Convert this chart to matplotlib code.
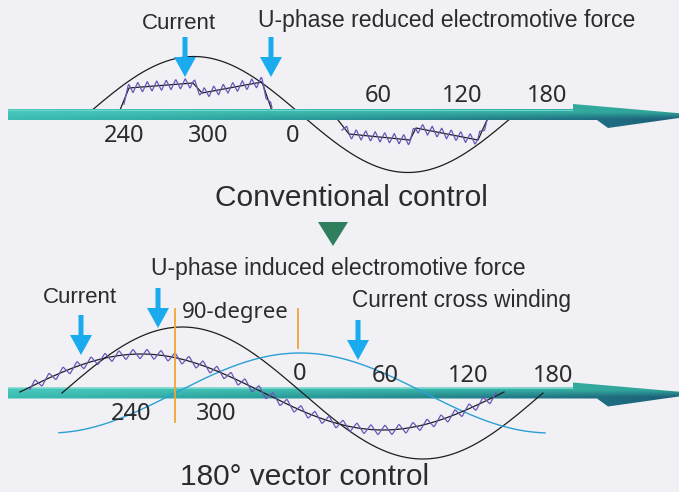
import numpy as np
import matplotlib
matplotlib.use("Agg")
import matplotlib.pyplot as plt
from matplotlib.patches import Polygon, FancyArrow
from matplotlib.colors import to_rgb

# ---- data (pixel units of the 679x492 picture) ----
# angle labels: (text, x, baseline y)
top_labels = [("240", 124, 142), ("300", 208, 142), ("0", 293, 142),
              ("60", 378, 102), ("120", 462, 102), ("180", 547, 102)]
bot_labels = [("240", 131, 420), ("300", 216, 420), ("0", 300, 380),
              ("60", 385, 382), ("120", 468, 382), ("180", 553, 382)]

# conventional control: induced EMF sine (start x, half period, amplitude)
top_emf = (87, 214, 58)
top_emf_end = 515
# conventional control: 120-degree block current (x, height above axis)
top_cur_pos_x = [116, 120, 129, 193, 202, 262, 271, 274]
top_cur_pos_h = [0, 4.5, 26.5, 31.5, 21.5, 32.5, 6.5, 0]
top_cur_neg_x = [334, 338, 349, 410, 416, 478, 487, 491]
top_cur_neg_h = [0, -5.5, -19.5, -25.5, -13.5, -25.5, -5.5, 0]

# 180 degree vector control: (start x, half period, amplitude, end x)
bot_emf = (62, 240.5, 66, 543)
bot_cur = (20, 242, 38, 504)
bot_cross = (175, 250, 40, 59, 545)   # zero x, half period, amp, from, to

top_axis_y = 114.5
bot_axis_y = 393

# ---- styles ----
bg = "#f1f1f5"
txt = "#2b2b2b"
purple = "#6a56b8"
arrow_blue = "#1aaaee"
cross_blue = "#2a9fd6"
orange = "#f2a533"
green = "#2f7f5e"
word_font = ["Liberation Sans", "DejaVu Sans"]
num_font = ["Noto Sans", "DejaVu Sans"]

fig = plt.figure(figsize=(6.79, 4.92), dpi=100)
fig.patch.set_facecolor(bg)
ax = fig.add_axes([0, 0, 1, 1])
ax.set_facecolor(bg)


def axis_arrow(yc):
    # shaded teal bar with skewed arrow head, clipped image gradient
    dy = yc - 114.5
    pts = [(8, 109), (573, 109), (573, 104), (700, 115), (608, 128),
           (597, 120), (8, 120)]
    pts = [(x, y + dy) for x, y in pts]
    poly = Polygon(pts, closed=True, facecolor="none", edgecolor="none",
                   transform=ax.transData)
    ax.add_patch(poly)
    w, h = 200, 52
    t = np.linspace(0, 1, w)[None, :, None]
    yy = np.linspace(102, 130, h)[:, None, None]
    top_l, top_r = np.array(to_rgb("#48c8bc")), np.array(to_rgb("#2fa398"))
    bot_l, bot_r = np.array(to_rgb("#22aaa0")), np.array(to_rgb("#1c5d78"))
    topc = top_l * (1 - t) + top_r * t
    botc = bot_l * (1 - t) + bot_r * t
    # bar: dark lower part from y~114; head: dark below its mid line
    mix_bar = np.clip((yy - 112) / 7, 0, 1)
    mix_bar = mix_bar * (0.35 + 0.65 * t)
    img = topc * (1 - mix_bar) + botc * mix_bar
    im = ax.imshow(img, extent=(0, 700, 130 + dy, 102 + dy), origin="upper",
                   aspect="auto", zorder=3, interpolation="bilinear")
    im.set_clip_path(poly)
    # light top edge
    ax.plot([8, 573], [109.6 + dy, 109.6 + dy], color="#6ad6cc", lw=0.8,
            zorder=3.1, solid_capstyle="butt")


def zigzag(x, y, period, amp):
    tri = 2 * np.abs(((x / period) % 1.0) - 0.5) * 2 - 1
    return y + amp * tri


def down_arrow(x, y0, y1):
    ax.add_patch(FancyArrow(x, y0, 0, y1 - y0, width=5, head_width=22,
                            head_length=20, length_includes_head=True,
                            color=arrow_blue, lw=0, zorder=6))


# ---- top panel: conventional control ----
x0, half, amp = top_emf
xs = np.linspace(x0, top_emf_end, 400)
ax.plot(xs, top_axis_y - amp * np.sin(np.pi * (xs - x0) / half),
        color="#1e1e1e", lw=0.9, zorder=2)
for px, ph in ((top_cur_pos_x, top_cur_pos_h), (top_cur_neg_x, top_cur_neg_h)):
    px = np.array(px, float)
    py = top_axis_y - np.array(ph, float)
    ax.plot(px, py, color="#1e1e1e", lw=0.9, zorder=2)
    xx = np.linspace(px[1] + 4, px[-2] + 1, 300)
    yy = np.interp(xx, px, py)
    ax.plot(xx, zigzag(xx, yy, 9.5, 5.0), color=purple, lw=0.9, zorder=2)

axis_arrow(top_axis_y)
for s, x, y in top_labels:
    ax.text(x, y, s, ha="center", va="baseline", fontsize=17,
            family=num_font, color=txt)

ax.text(179, 29, "Current", ha="center", va="baseline", fontsize=16,
        family=word_font, color=txt)
ax.text(258, 27, "U-phase reduced electromotive force", ha="left",
        va="baseline", fontsize=16.6, family=word_font, color=txt)
down_arrow(185, 37, 77)
down_arrow(271, 37, 77)

ax.text(351, 206, "Conventional control", ha="center", va="baseline",
        fontsize=21.5, family=word_font, color=txt)
ax.add_patch(Polygon([(318, 222), (348, 222), (333, 246)], closed=True,
                     facecolor=green, edgecolor="none"))

# ---- bottom panel: 180 degree vector control ----
axis_arrow(bot_axis_y)

x0, half, amp, x1 = bot_emf
xs = np.linspace(x0, x1, 400)
ax.plot(xs, bot_axis_y - amp * np.sin(np.pi * (xs - x0) / half),
        color="#1e1e1e", lw=0.9, zorder=4)

xz, half, amp, xa, xb = bot_cross
xs = np.linspace(xa, xb, 400)
ax.plot(xs, bot_axis_y - amp * np.sin(np.pi * (xs - xz) / half),
        color=cross_blue, lw=1.0, zorder=4)

x0, half, amp, x1 = bot_cur
xs = np.linspace(x0, x1, 600)
yc = bot_axis_y - 1 - amp * np.sin(np.pi * (xs - x0) / half)
ax.plot(xs, yc, color="#1e1e1e", lw=0.9, zorder=5)
xz_ = np.linspace(x0 + 10, x1 - 8, 600)
yz_ = np.interp(xz_, xs, yc)
ax.plot(xz_, zigzag(xz_, yz_, 14, 5.0), color=purple, lw=0.9, zorder=5)

ax.plot([175, 175], [309, 422], color=orange, lw=1.3, zorder=5)
ax.plot([298, 298], [309, 348], color=orange, lw=1.3, zorder=5)

for s, x, y in bot_labels:
    ax.text(x, y, s, ha="center", va="baseline", fontsize=17,
            family=num_font, color=txt, zorder=4.5)

ax.text(338, 275, "U-phase induced electromotive force", ha="center",
        va="baseline", fontsize=16.6, family=word_font, color=txt)
ax.text(80, 303, "Current", ha="center", va="baseline", fontsize=16,
        family=word_font, color=txt)
ax.text(235, 318, "90-degree", ha="center", va="baseline", fontsize=16,
        family=num_font, color=txt)
ax.text(462, 307, "Current cross winding", ha="center", va="baseline",
        fontsize=16.3, family=word_font, color=txt)
down_arrow(81, 315, 355)
down_arrow(158, 288, 328)
down_arrow(358, 320, 360)

ax.text(305, 485, "180\u00b0 vector control", ha="center", va="baseline",
        fontsize=21.5, family=word_font, color=txt)

ax.set_xlim(0, 679)
ax.set_ylim(492, 0)
ax.axis("off")
fig.savefig("out.png", dpi=100, facecolor=bg)
